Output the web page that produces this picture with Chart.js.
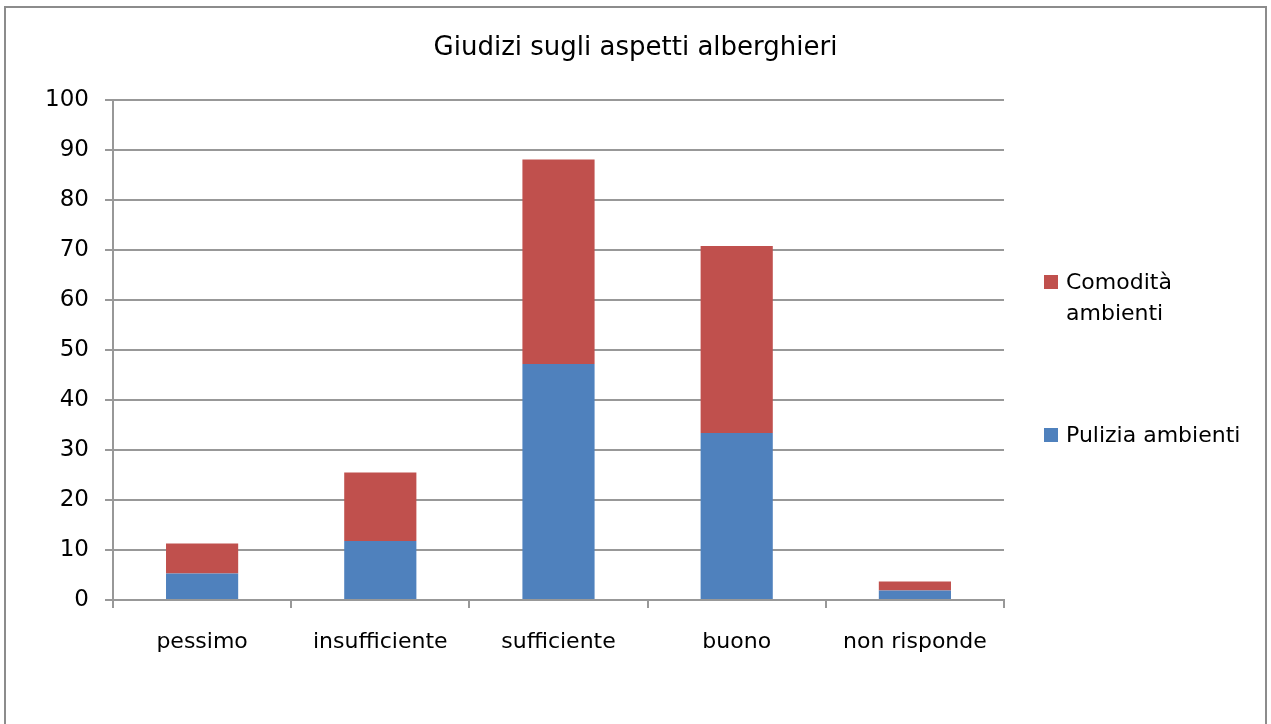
<!DOCTYPE html>
<html lang="it">
<head>
  <meta charset="UTF-8" />
  <title>Giudizi sugli aspetti alberghieri</title>
  <script src="https://cdn.jsdelivr.net/npm/chart.js"></script>
  <style>
    body { margin: 0; background: #fff; font-family: "DejaVu Sans", sans-serif; }
    .wrap { position: relative; width: 1271px; height: 724px; overflow: hidden; }
    .frame { position: absolute; left: 4px; top: 6px; width: 1259px; height: 730px; border: 2px solid #8c8c8c; border-bottom: none; }
    canvas { position: absolute; left: 0; top: 0; }
    .title { position: absolute; left: 0; width: 1271px; top: 29px; text-align: center; font-size: 26px; line-height: 34px; color: #000; }
    .legend { position: absolute; left: 1044px; top: 266px; font-size: 22px; color: #000; line-height: 31px; }
    .legend .item { position: relative; padding-left: 22px; }
    .legend .box { position: absolute; left: 0; top: 9px; width: 14px; height: 14px; }
  </style>
</head>
<body>
  <div class="wrap">
    <div class="frame"></div>
    <canvas id="chart" width="1271" height="724"></canvas>
    <div class="title">Giudizi sugli aspetti alberghieri</div>
    <div class="legend">
      <div class="item"><span class="box" style="background:#C0504D"></span>Comodità<br>ambienti</div>
      <div class="item" style="margin-top:91px"><span class="box" style="background:#4F81BD"></span>Pulizia ambienti</div>
    </div>
  </div>

  <script>
    const categories = ["pessimo", "insufficiente", "sufficiente", "buono", "non risponde"];
    const pulizia = [5.3, 11.8, 47.2, 33.4, 1.9];
    const comodita = [6.0, 13.7, 40.9, 37.4, 1.8];
    const yTicks = [0, 10, 20, 30, 40, 50, 60, 70, 80, 90, 100];

    const gridCol = "#989898";

    new Chart(document.getElementById("chart").getContext("2d"), {
      type: "bar",
      data: {
        labels: categories,
        datasets: [
          { label: "Pulizia ambienti", data: pulizia, backgroundColor: "#4F81BD" },
          { label: "Comodità ambienti", data: comodita, backgroundColor: "#C0504D" }
        ]
      },
      options: {
        responsive: false,
        animation: false,
        layout: { padding: { left: 20, right: 267, top: 100, bottom: 20 } },
        datasets: { bar: { categoryPercentage: 1, barPercentage: 0.405 } },
        plugins: {
          legend: { display: false },
          tooltip: { enabled: false },
          title: { display: false }
        },
        scales: {
          x: {
            stacked: true,
            grid: { display: true, drawOnChartArea: false, color: gridCol, lineWidth: 2, tickLength: 8, offset: true },
            border: { color: gridCol, width: 2 },
            ticks: { color: "#000", font: { family: "DejaVu Sans", size: 22 }, padding: 21, maxRotation: 0 },
            afterFit(s) { s.height = 104; }
          },
          y: {
            stacked: true,
            min: 0,
            max: 100,
            afterBuildTicks(s) { s.ticks = yTicks.map(v => ({ value: v })); },
            grid: { color: gridCol, lineWidth: 2, tickLength: 8 },
            border: { color: gridCol, width: 2 },
            ticks: { color: "#000", font: { family: "DejaVu Sans", size: 23 }, padding: 16 },
            afterFit(s) { s.width = 93; }
          }
        }
      }
    });
  </script>
</body>
</html>
